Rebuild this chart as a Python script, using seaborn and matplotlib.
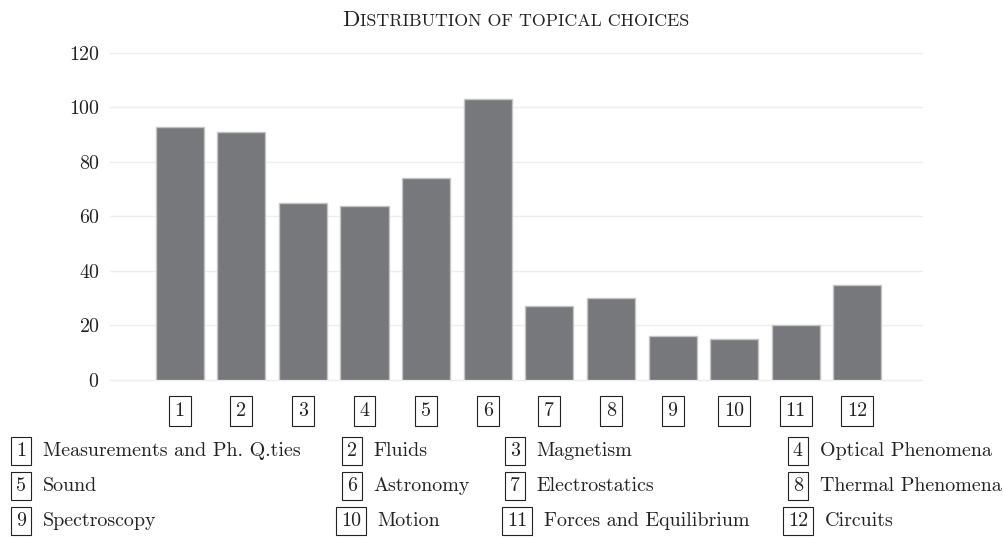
import matplotlib
matplotlib.use("Agg")
import matplotlib.pyplot as plt
import seaborn as sns
import pandas as pd
from matplotlib.offsetbox import TextArea, HPacker, AnnotationBbox

# data
codes = ["1", "2", "3", "4", "5", "6", "7", "8", "9", "10", "11", "12"]
counts = [93, 91, 65, 64, 74, 103, 27, 30, 16, 15, 20, 35]
topics = ["Measurements and Ph. Q.ties", "Fluids", "Magnetism", "Optical Phenomena",
          "Sound", "Astronomy", "Electrostatics", "Thermal Phenomena",
          "Spectroscopy", "Motion", "Forces and Equilibrium", "Circuits"]
yticks = [0, 20, 40, 60, 80, 100, 120]

df = pd.DataFrame({"code": codes, "count": counts})

sns.set_style("white")
plt.rcParams["font.family"] = ["cmr10", "DejaVu Serif"]
plt.rcParams["axes.formatter.use_mathtext"] = True

FS = 14.4
PAD = 0.25
ink = "#222222"

fig = plt.figure(figsize=(10.04, 5.38), dpi=100)
ax = fig.add_axes([0.1096, 0.2937, 0.8088, 0.6078])

sns.barplot(data=df, x="code", y="count", order=codes, color="#77787b",
            saturation=1, edgecolor="#c4c4c4", linewidth=1.0, width=0.78, ax=ax)

ax.set_ylim(0, 120)
ax.set_xlim(-1.13, 12.05)
ax.set_yticks(yticks)
ax.yaxis.grid(True, color="#eeeeee", linewidth=1.0)
ax.set_axisbelow(True)
for gl in ax.get_ygridlines():
    gl.set_clip_on(False)
ax.set_xlabel("")
ax.set_ylabel("")
sns.despine(ax=ax, left=True, bottom=True)
ax.tick_params(axis="y", labelsize=FS, length=0, pad=7.5, labelcolor=ink)
ax.tick_params(axis="x", labelsize=FS, length=0, pad=16, labelcolor=ink)
for lab in ax.get_xticklabels():
    lab.set_bbox(dict(boxstyle=f"square,pad={PAD + 0.05}", fc="white", ec=ink, lw=0.8))

# small-caps title
big = dict(fontsize=16.4, family=["cmr10", "DejaVu Serif"], color=ink)
small = dict(fontsize=12.9, family=["cmr10", "DejaVu Serif"], color=ink)
pieces = [TextArea("D", textprops=big),
          TextArea("ISTRIBUTION OF TOPICAL CHOICES", textprops=small)]
title = HPacker(children=pieces, align="baseline", pad=0, sep=0)
fig.add_artist(AnnotationBbox(title, (0.5135, 0.962), xycoords="figure fraction",
                              frameon=False, box_alignment=(0.5, 0.5)))

# legend grid below the axis
W, H = 1004.0, 538.0
box_left_1 = [11, 342, 505, 788]
box_left_2 = [11, 336, 502, 783]
row_y = [451, 486, 521]
pad_px = PAD * FS / 72 * 100
for i, (c, t) in enumerate(zip(codes, topics)):
    r, k = divmod(i, 4)
    x = (box_left_2 if len(c) > 1 else box_left_1)[k] + pad_px
    y = row_y[r]
    num = fig.text(x / W, 1 - y / H, c, fontsize=FS, ha="left", va="center",
                   color=ink,
                   bbox=dict(boxstyle=f"square,pad={PAD}", fc="white", ec=ink, lw=0.8))
    fig.add_artist(plt.Annotation(t, xy=(1, 0.5), xycoords=num,
                                  xytext=(PAD * FS + 8.5, 0),
                                  textcoords="offset points", va="center", ha="left",
                                  fontsize=FS, color=ink))

fig.savefig("out.png", dpi=100)
